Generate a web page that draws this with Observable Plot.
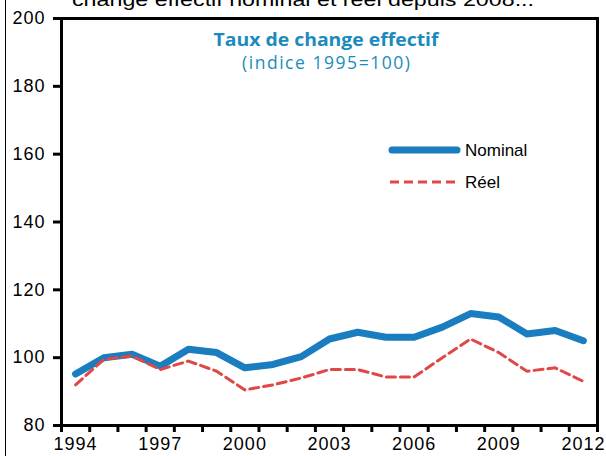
<!DOCTYPE html>
<html><head><meta charset="utf-8">
<script src="https://cdn.jsdelivr.net/npm/d3@7"></script>
<script src="https://cdn.jsdelivr.net/npm/@observablehq/plot@0.6"></script>
<style>
body{margin:0;background:#fff;}
#wrap{position:relative;width:606px;height:456px;overflow:hidden;font-family:"Liberation Sans",Arial,sans-serif;background:#fff;}
#wrap svg{display:block;}
#wrap svg g[aria-label$="axis tick label"] text{letter-spacing:1px;}
</style></head><body><div id="wrap"></div>
<script>
const years = [1994,1995,1996,1997,1998,1999,2000,2001,2002,2003,2004,2005,2006,2007,2008,2009,2010,2011,2012];
const nominal = [95.2,100,101,97.5,102.5,101.5,97,98,100.3,105.5,107.5,106,106,109,113,112,107,108,105];
const reel = [92,99.5,100.5,96.5,99,96,90.5,92,94,96.5,96.5,94.3,94.3,100,105.5,101.5,96,97,93];
const seriesNames = ["Nominal","Réel"];
const yTicks = [80,100,120,140,160,180,200];
const xLabels = [1994,1997,2000,2003,2006,2009,2012];
const xBoundaries = d3.range(years[0]-0.5, years[years.length-1]+1, 1);
const headText = "change effectif nominal et réel depuis 2008...";
const innerTitle = "Taux de change effectif";
const innerSub = "(indice 1995=100)";

const nomData = years.map((y,i)=>({year:y, value:nominal[i], series:seriesNames[0]}));
const reelData = years.map((y,i)=>({year:y, value:reel[i], series:seriesNames[1]}));

const font = '"Liberation Sans", Arial, sans-serif';
const chart = Plot.plot({
  width:606, height:456,
  marginLeft:61, marginRight:9, marginTop:18, marginBottom:31,
  style:{fontFamily:font, fontSize:"18px", color:"#000", background:"#fff", overflow:"visible"},
  x:{domain:[years[0]-0.5, years[years.length-1]+0.5]},
  y:{domain:[80,200]},
  marks:[
    Plot.axisY(yTicks,{tickSize:8, tickPadding:8, strokeWidth:3, label:null, fontSize:18}),
    Plot.axisX(xBoundaries,{tickSize:7, strokeWidth:3, tickFormat:()=>"", label:null}),
    Plot.axisX(xLabels,{tickSize:0, tickPadding:12, tickFormat:d=>String(d), label:null, fontSize:18}),
    Plot.lineY(nomData,{x:"year", y:"value", stroke:"#1a7dc0", strokeWidth:7, strokeLinecap:"round", strokeLinejoin:"round"}),
    Plot.lineY(reelData,{x:"year", y:"value", stroke:"#e04848", strokeWidth:3, strokeDasharray:"9,5"}),
    Plot.frame({stroke:"#000", strokeWidth:3})
  ]
});
const wrap = document.getElementById("wrap");
wrap.appendChild(chart);

// overlay: outer left border, cut-off heading, inner title, legend
const ns = "http://www.w3.org/2000/svg";
const ov = document.createElementNS(ns,"svg");
ov.setAttribute("width",606); ov.setAttribute("height",456);
ov.setAttribute("style","position:absolute;left:0;top:0;font-family:"+font);
ov.innerHTML = `
<line x1="5.5" y1="0" x2="5.5" y2="456" stroke="#000" stroke-width="1"/>
<text x="72" y="6" font-size="19" textLength="462" lengthAdjust="spacingAndGlyphs">${headText}</text>
<text x="326" y="46" text-anchor="middle" font-family="'Open Sans', sans-serif" font-weight="bold" font-size="17.5" fill="#1b8bbd" textLength="225" lengthAdjust="spacingAndGlyphs">${innerTitle}</text>
<text x="326" y="69" text-anchor="middle" font-family="'Open Sans', sans-serif" font-size="17.5" fill="#1b8bbd" textLength="168" lengthAdjust="spacing">${innerSub}</text>
<line x1="392" y1="150" x2="457" y2="150" stroke="#1a7dc0" stroke-width="7" stroke-linecap="round"/>
<text x="465" y="156" font-size="17">${seriesNames[0]}</text>
<line x1="390" y1="182" x2="455" y2="182" stroke="#e04848" stroke-width="3" stroke-dasharray="9,5"/>
<text x="465" y="188" font-size="17">${seriesNames[1]}</text>
`;
wrap.appendChild(ov);
</script></body></html>
